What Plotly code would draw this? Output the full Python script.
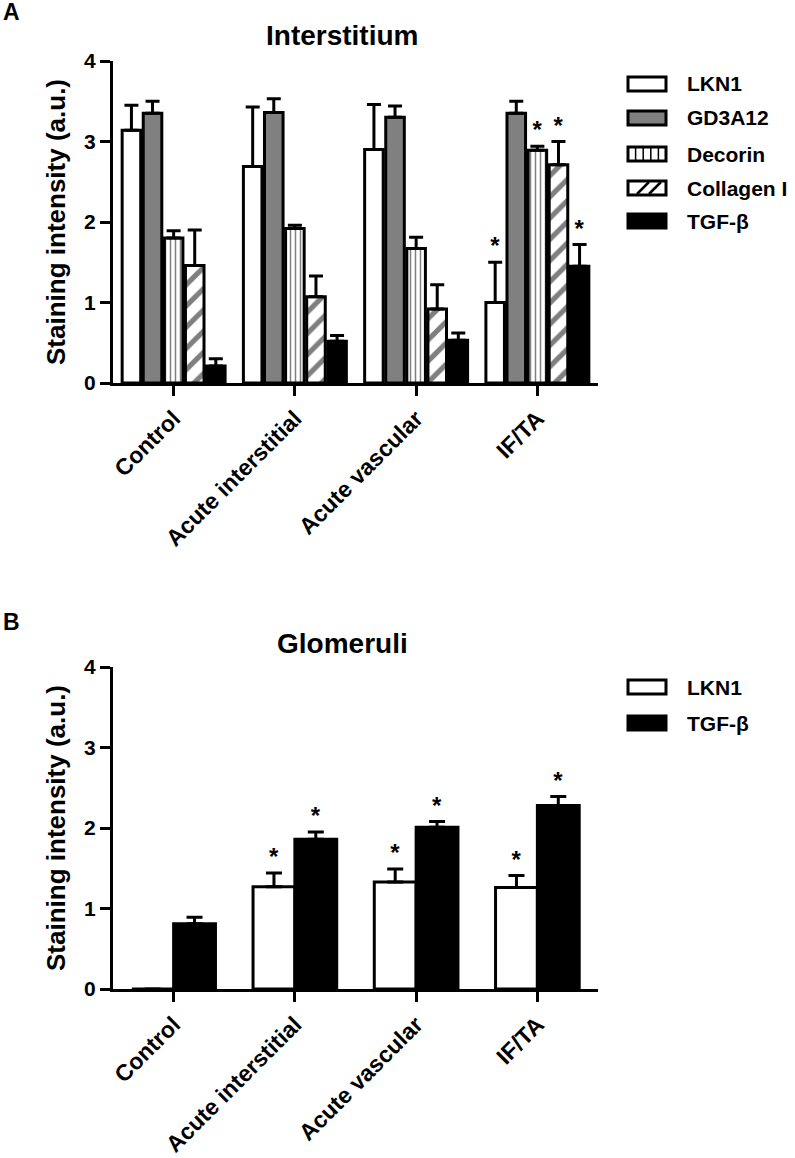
import plotly.graph_objects as go

# ---------------- data ----------------
categories = ["Control", "Acute interstitial", "Acute vascular", "IF/TA"]

# Panel A – Interstitium
lkn1_int = [3.14, 2.69, 2.90, 1.00]
lkn1_int_err = [0.31, 0.74, 0.56, 0.50]
gd3a12_int = [3.35, 3.36, 3.30, 3.35]
gd3a12_int_err = [0.15, 0.17, 0.14, 0.15]
decorin_int = [1.80, 1.92, 1.67, 2.89]
decorin_int_err = [0.09, 0.04, 0.14, 0.05]
collagen_int = [1.46, 1.07, 0.92, 2.71]
collagen_int_err = [0.44, 0.26, 0.30, 0.29]
tgf_int = [0.21, 0.52, 0.53, 1.45]
tgf_int_err = [0.09, 0.07, 0.09, 0.27]
lkn1_int_sig = ["", "", "", "*"]
gd3a12_int_sig = ["", "", "", ""]
decorin_int_sig = ["", "", "", "*"]
collagen_int_sig = ["", "", "", "*"]
tgf_int_sig = ["", "", "", "*"]

# Panel B – Glomeruli
lkn1_glo = [0.0, 1.27, 1.33, 1.26]
lkn1_glo_err = [0.0, 0.17, 0.16, 0.15]
tgf_glo = [0.81, 1.86, 2.01, 2.28]
tgf_glo_err = [0.08, 0.09, 0.07, 0.11]
lkn1_glo_sig = ["", "*", "*", "*"]
tgf_glo_sig = ["", "*", "*", "*"]

y_ticks = [0, 1, 2, 3, 4]
y_tick_labels = ["0", "1", "2", "3", "4"]

# ---------------- style ----------------
FONT = "Liberation Sans, Arial, sans-serif"
W, H = 795, 1158
ML, MR, MT, MB = 113, 197, 61, 169
PW, PH = W - ML - MR, H - MT - MB


def X(px):
    return (px - ML) / PW


def Y(py):
    return (H - MB - py) / PH


fig = go.Figure()

series_a = [
    ("LKN1", lkn1_int, lkn1_int_err, lkn1_int_sig, dict(color="white")),
    ("GD3A12", gd3a12_int, gd3a12_int_err, gd3a12_int_sig, dict(color="#808080")),
    ("Decorin", decorin_int, decorin_int_err, decorin_int_sig,
     dict(color="white", pattern=dict(shape="|", size=5, solidity=0.3, fgcolor="black", bgcolor="white"))),
    ("Collagen I", collagen_int, collagen_int_err, collagen_int_sig,
     dict(color="white", pattern=dict(shape="/", size=15, solidity=0.35, fgcolor="black", bgcolor="white"))),
    ("TGF-β", tgf_int, tgf_int_err, tgf_int_sig, dict(color="black")),
]

for name, vals, errs, sig, mk in series_a:
    marker = dict(line=dict(color="black", width=3))
    marker.update(mk)
    fig.add_trace(go.Bar(
        x=categories, y=vals, name=name, offsetgroup=name,
        marker=marker,
        error_y=dict(type="data", array=errs, arrayminus=[0] * len(errs), symmetric=False,
                     color="black", thickness=3, width=7),
        xaxis="x", yaxis="y", showlegend=False, hoverinfo="skip",
    ))
for name, vals, errs, sig, mk in series_a:
    fig.add_trace(go.Bar(
        x=categories, y=[v + e for v, e in zip(vals, errs)], offsetgroup=name,
        marker=dict(color="rgba(0,0,0,0)", line=dict(width=0)),
        text=sig, textposition="outside", constraintext="none", cliponaxis=False,
        textfont=dict(family=FONT, size=24, color="black", weight="bold"),
        xaxis="x", yaxis="y", showlegend=False, hoverinfo="skip",
    ))

series_b = [
    ("LKN1", lkn1_glo, lkn1_glo_err, lkn1_glo_sig, "white", -0.345),
    ("TGF-β", tgf_glo, tgf_glo_err, tgf_glo_sig, "black", 0.0),
]
for name, vals, errs, sig, col, off in series_b:
    fig.add_trace(go.Bar(
        x=categories, y=vals, name=name, offset=off, width=0.345,
        marker=dict(color=col, line=dict(color="black", width=3)),
        error_y=dict(type="data", array=errs, arrayminus=[0] * len(errs), symmetric=False,
                     color="black", thickness=3, width=8),
        xaxis="x2", yaxis="y2", showlegend=False, hoverinfo="skip",
    ))
for name, vals, errs, sig, col, off in series_b:
    fig.add_trace(go.Bar(
        x=categories, y=[v + e for v, e in zip(vals, errs)], offset=off, width=0.345,
        marker=dict(color="rgba(0,0,0,0)", line=dict(width=0)),
        text=sig, textposition="outside", constraintext="none", cliponaxis=False,
        textfont=dict(family=FONT, size=24, color="black", weight="bold"),
        xaxis="x2", yaxis="y2", showlegend=False, hoverinfo="skip",
    ))

xcommon = dict(
    type="category", range=[-0.5, 3.5], showline=True, linewidth=3, linecolor="black",
    ticks="outside", ticklen=10, tickwidth=3, tickcolor="black", tickangle=-45,
    tickfont=dict(family=FONT, size=23, color="black", weight="bold"),
    showgrid=False, zeroline=False, automargin=False,
)
ycommon = dict(
    range=[0, 4], tickvals=y_ticks, ticktext=y_tick_labels, showline=True, linewidth=3,
    linecolor="black", ticks="outside", ticklen=10, tickwidth=3, tickcolor="black",
    tickfont=dict(family=FONT, size=21, color="black", weight="bold"),
    showgrid=False, zeroline=False, automargin=False,
    title=dict(text="Staining intensity (a.u.)", standoff=12,
               font=dict(family=FONT, size=26, color="black", weight="bold")),
)

fig.update_layout(
    width=W, height=H,
    margin=dict(l=ML, r=MR, t=MT, b=MB),
    paper_bgcolor="white", plot_bgcolor="white",
    barmode="group", bargap=0.13, bargroupgap=0.12,
    showlegend=False,
    font=dict(family=FONT, color="black"),
    xaxis=dict(domain=[0, 1], anchor="y", **xcommon),
    yaxis=dict(domain=[Y(383), 1], anchor="x", **ycommon),
    xaxis2=dict(domain=[0, 1], anchor="y2", **xcommon),
    yaxis2=dict(domain=[0, Y(667)], anchor="x2", **ycommon),
)

anns = []
for text, py in [("Interstitium", 35), ("Glomeruli", 643)]:
    anns.append(dict(text=text, x=X(342), y=Y(py), xref="paper", yref="paper",
                     xanchor="center", yanchor="middle", showarrow=False,
                     font=dict(family=FONT, size=28, color="black", weight="bold")))
for letter, py in [("A", 12), ("B", 622)]:
    anns.append(dict(text=letter, x=X(1), y=Y(py), xref="paper", yref="paper",
                     xanchor="left", yanchor="middle", showarrow=False,
                     font=dict(family=FONT, size=23, color="black", weight="bold")))

shapes = []
BX0, BX1, BH = 628, 666, 14


def legend_item(label, py, fill, pattern=None):
    y0, y1 = Y(py + BH / 2), Y(py - BH / 2)
    shapes.append(dict(type="rect", xref="paper", yref="paper", x0=X(BX0), x1=X(BX1),
                       y0=y0, y1=y1, fillcolor=fill, line=dict(color="black", width=3),
                       layer="above"))
    if pattern == "|":
        for k in range(1, 5):
            px = BX0 + k * (BX1 - BX0) / 5
            shapes.append(dict(type="line", xref="paper", yref="paper", x0=X(px), x1=X(px),
                               y0=y0, y1=y1, line=dict(color="black", width=1.5)))
    elif pattern == "/":
        for k in range(2):
            px = BX0 + 9 + k * 12
            shapes.append(dict(type="line", xref="paper", yref="paper", x0=X(px), x1=X(px + BH - 2),
                               y0=Y(py + BH / 2 - 1), y1=Y(py - BH / 2 + 1),
                               line=dict(color="black", width=2.5)))
    anns.append(dict(text=label, x=X(685), y=Y(py), xref="paper", yref="paper",
                     xanchor="left", yanchor="middle", showarrow=False,
                     font=dict(family=FONT, size=21, color="black", weight="bold")))


legend_item("LKN1", 84, "white")
legend_item("GD3A12", 118, "#808080")
legend_item("Decorin", 154, "white", "|")
legend_item("Collagen I", 188, "white", "/")
legend_item("TGF-β", 221, "black")
legend_item("LKN1", 687, "white")
legend_item("TGF-β", 723, "black")

fig.update_layout(annotations=anns, shapes=shapes)
fig.write_html("out.html", config={"displayModeBar": False},
               post_script="document.body.style.margin='0';")
